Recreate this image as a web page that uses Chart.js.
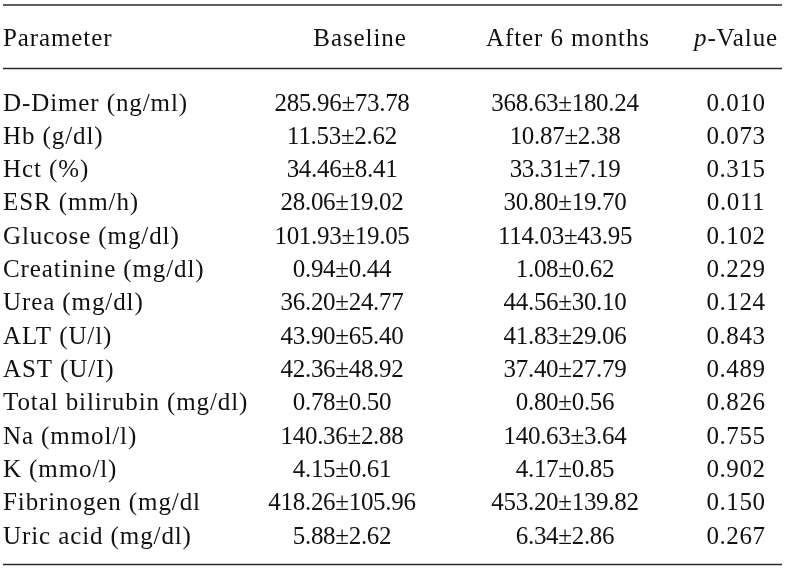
<!DOCTYPE html>
<html><head><meta charset="utf-8">
<script src="https://cdn.jsdelivr.net/npm/chart.js@4/dist/chart.umd.min.js"></script>
<style>html,body{margin:0;padding:0;background:#fff;}canvas{display:block;}</style>
</head><body>
<canvas id="c" width="789" height="576"></canvas>
<script>
const parameters = ["D-Dimer (ng/ml)","Hb (g/dl)","Hct (%)","ESR (mm/h)","Glucose (mg/dl)","Creatinine (mg/dl)","Urea (mg/dl)","ALT (U/l)","AST (U/I)","Total bilirubin (mg/dl)","Na (mmol/l)","K (mmo/l)","Fibrinogen (mg/dl","Uric acid (mg/dl)"];
const baselineMean = [285.96,11.53,34.46,28.06,101.93,0.94,36.20,43.90,42.36,0.78,140.36,4.15,418.26,5.88];
const baselineSD   = [73.78,2.62,8.41,19.02,19.05,0.44,24.77,65.40,48.92,0.50,2.88,0.61,105.96,2.62];
const after6Mean   = [368.63,10.87,33.31,30.80,114.03,1.08,44.56,41.83,37.40,0.80,140.63,4.17,453.20,6.34];
const after6SD     = [180.24,2.38,7.19,19.70,43.95,0.62,30.10,29.06,27.79,0.56,3.64,0.85,139.82,2.86];
const pValues      = [0.010,0.073,0.315,0.011,0.102,0.229,0.124,0.843,0.489,0.826,0.755,0.902,0.150,0.267];
const headers = ["Parameter","Baseline","After 6 months","-Value"];
const headerItalicPrefix = "p";

const tablePlugin = {
  id: 'tableText',
  afterDraw(chart, args, o) {
    const ctx = chart.ctx;
    const ys = chart.scales.y;
    ctx.save();
    ctx.fillStyle = o.color;
    ctx.textBaseline = 'alphabetic';
    const setLS = v => { if ('letterSpacing' in ctx) ctx.letterSpacing = v + 'px'; };
    // rules
    ctx.strokeStyle = o.ruleColor;
    ctx.lineWidth = o.ruleWidth;
    o.rules.forEach(y => { ctx.beginPath(); ctx.moveTo(o.ruleLeft, y); ctx.lineTo(o.ruleRight, y); ctx.stroke(); });
    // header
    ctx.font = o.font;
    setLS(o.textLS);
    ctx.textAlign = 'left';
    ctx.fillText(headers[0], o.leftX, o.headerY);
    ctx.textAlign = 'center';
    ctx.fillText(headers[1], o.headCenters[0], o.headerY);
    ctx.fillText(headers[2], o.headCenters[1], o.headerY);
    // p-Value with italic p
    ctx.textAlign = 'left';
    ctx.font = 'italic ' + o.font;
    const wp = ctx.measureText(headerItalicPrefix).width;
    ctx.font = o.font;
    const wr = ctx.measureText(headers[3]).width;
    const x0 = o.headCenters[2] - (wp + wr) / 2;
    ctx.font = 'italic ' + o.font;
    ctx.fillText(headerItalicPrefix, x0, o.headerY);
    ctx.font = o.font;
    ctx.fillText(headers[3], x0 + wp, o.headerY);
    // rows
    parameters.forEach((name, i) => {
      const y = ys.getPixelForValue(i) + o.baseOffset;
      setLS(o.textLS);
      ctx.textAlign = 'left';
      ctx.fillText(name, o.leftX, y);
      setLS(o.numLS);
      ctx.textAlign = 'center';
      ctx.fillText(baselineMean[i].toFixed(2) + '\u00b1' + baselineSD[i].toFixed(2), o.dataCenters[0], y);
      ctx.fillText(after6Mean[i].toFixed(2) + '\u00b1' + after6SD[i].toFixed(2), o.dataCenters[1], y);
      setLS(o.pLS);
      ctx.fillText(pValues[i].toFixed(3), o.dataCenters[2], y);
    });
    ctx.restore();
  }
};

new Chart(document.getElementById('c').getContext('2d'), {
  type: 'scatter',
  data: { datasets: [] },
  options: {
    responsive: false,
    animation: false,
    devicePixelRatio: 1,
    layout: { padding: { top: 85.4, bottom: 24.3, left: 0, right: 0 } },
    plugins: {
      legend: { display: false },
      tooltip: { enabled: false },
      tableText: {
        color: '#111111',
        font: '25px "Liberation Serif", "Times New Roman", serif',
        textLS: 0.9, numLS: -0.3, pLS: 0.6,
        leftX: 3, headerY: 45.5, baseOffset: 8.5,
        headCenters: [360, 568, 736],
        dataCenters: [342, 565, 736],
        rules: [5, 68.5, 564.5], ruleLeft: 3, ruleRight: 782,
        ruleColor: '#2a2a2a', ruleWidth: 1.7
      }
    },
    scales: {
      x: { type: 'linear', display: false, min: 0, max: 1 },
      y: { type: 'category', labels: parameters, offset: true, display: false }
    }
  },
  plugins: [tablePlugin]
});
</script>
</body></html>
